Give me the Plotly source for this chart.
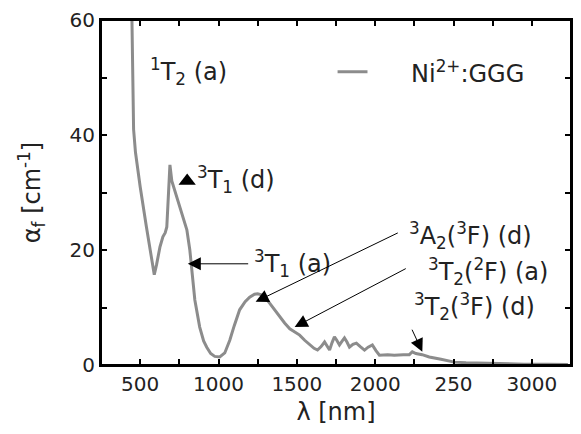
import plotly.graph_objects as go

# Absorption spectrum data
wavelength_nm = [447, 452, 458, 470, 500, 540, 570, 590, 605, 626, 645, 660, 670, 680, 690,
                 702, 725, 753, 780, 798, 817, 830, 849, 880, 905, 925, 950, 976, 1008, 1040,
                 1072, 1100, 1135, 1170, 1199, 1230, 1250, 1275, 1295, 1325, 1358, 1390, 1422,
                 1455, 1486, 1518, 1550, 1581, 1610, 1632, 1655, 1677, 1695, 1709, 1725, 1740,
                 1755, 1772, 1790, 1804, 1820, 1836, 1858, 1880, 1905, 1932, 1955, 1982, 2005,
                 2027, 2080, 2122, 2180, 2218, 2237, 2260, 2300, 2345, 2420, 2505, 2580, 2664,
                 2791, 2950, 3100, 3230]
alpha_cm = [61, 50, 41, 37, 31, 24, 19, 15.7, 17.5, 20.5, 22.3, 23, 24, 28.5, 34.8,
            32, 30, 27.5, 25, 23.5, 20, 16, 11.3, 6.6, 4.2, 3.1, 2.0, 1.5, 1.4, 2.1,
            4.3, 6.8, 9.6, 11, 11.8, 12.3, 12.4, 12.2, 11.8, 10.8, 9.6, 8.5, 7.3,
            6.3, 5.7, 5.2, 4.3, 3.5, 2.9, 2.6, 3.2, 4.0, 3.2, 2.6, 3.9, 4.9,
            4.3, 3.5, 4.2, 4.7, 4.0, 3.1, 3.6, 3.8, 3.2, 2.6, 3.1, 3.5, 2.5,
            1.7, 1.8, 1.7, 1.8, 1.8, 2.3, 2.0, 1.8, 1.4, 1.0, 0.5, 0.4, 0.35,
            0.2, 0.15, 0.15, 0.1]

# Tick positions (major labelled, minor blank)
x_tickvals = [500, 750, 1000, 1250, 1500, 1750, 2000, 2250, 2500, 2750, 3000, 3250]
x_ticktext = ["500", "", "1000", "", "1500", "", "2000", "", "250", "", "3000", ""]
y_tickvals = [0, 10, 20, 30, 40, 50, 60]
y_ticktext = ["0", "", "20", "", "40", "", "60"]

# Arrow annotations: label, tip (x, y), tail (x, y), label position (x, y)
arrow_labels = ["<sup>3</sup>T<sub>1</sub> (a)",
                "<sup>3</sup>A<sub>2</sub>(<sup>3</sup>F) (d)",
                "<sup>3</sup>T<sub>2</sub>(<sup>2</sup>F) (a)",
                "<sup>3</sup>T<sub>2</sub>(<sup>3</sup>F) (d)"]
arrow_tip_x = [804, 1237, 1486, 2301]
arrow_tip_y = [17.6, 11.0, 6.6, 2.3]
arrow_tail_x = [1199, 2154, 2205, 2231]
arrow_tail_y = [17.6, 23.1, 16.9, 6.4]
label_x = [1212, 2205, 2326, 2237]
label_y = [17.6, 22.6, 16.2, 10.1]

# Plain labels
plain_labels = ["<sup>1</sup>T<sub>2</sub> (a)", "<sup>3</sup>T<sub>1</sub> (d)"]
plain_x = [549, 849]
plain_y = [51, 32.2]
marker_x = [800]
marker_y = [32.0]

legend_name = "Ni<sup>2+</sup>:GGG"
legend_line_x = [1760, 1951]
legend_y = 51
legend_text_x = 2218

line_color = "#8c8c8c"
txt_color = "#222222"
FONT = "DejaVu Sans"

fig = go.Figure()
fig.add_trace(go.Scatter(x=wavelength_nm, y=alpha_cm, mode="lines",
                         line=dict(color=line_color, width=3), name=legend_name,
                         showlegend=False))
fig.add_trace(go.Scatter(x=marker_x, y=marker_y, mode="markers",
                         marker=dict(symbol="triangle-up", size=15, color="black"),
                         showlegend=False))

annotations = []
for lab, tx, ty, ax, ay, lx, ly in zip(arrow_labels, arrow_tip_x, arrow_tip_y,
                                       arrow_tail_x, arrow_tail_y, label_x, label_y):
    annotations.append(dict(x=tx, y=ty, ax=ax, ay=ay, xref="x", yref="y",
                            axref="x", ayref="y", text="", showarrow=True,
                            arrowhead=2, arrowsize=2.6, arrowwidth=1, arrowcolor="black"))
    annotations.append(dict(x=lx, y=ly, xref="x", yref="y", text=lab, showarrow=False,
                            xanchor="left", yanchor="middle",
                            font=dict(family=FONT, size=24, color=txt_color)))
for lab, lx, ly in zip(plain_labels, plain_x, plain_y):
    annotations.append(dict(x=lx, y=ly, xref="x", yref="y", text=lab, showarrow=False,
                            xanchor="left", yanchor="middle",
                            font=dict(family=FONT, size=24, color=txt_color)))
annotations.append(dict(x=legend_text_x, y=legend_y, xref="x", yref="y", text=legend_name,
                        showarrow=False, xanchor="left", yanchor="middle",
                        font=dict(family=FONT, size=24, color=txt_color)))

fig.add_shape(type="line", xref="x", yref="y", x0=legend_line_x[0], x1=legend_line_x[1],
              y0=legend_y, y1=legend_y, line=dict(color=line_color, width=3))
# plot frame (box around the plotting area)
fig.add_shape(type="rect", xref="paper", yref="paper", x0=0, x1=1, y0=0, y1=1,
              line=dict(color="black", width=2), fillcolor="rgba(0,0,0,0)", layer="above")

axis_common = dict(showline=True, linecolor="black", linewidth=2, mirror="allticks",
                   ticks="inside", ticklen=6, tickwidth=1.5, tickcolor="black",
                   showgrid=False, zeroline=False,
                   tickfont=dict(family=FONT, size=20, color=txt_color))

fig.update_xaxes(range=[250, 3250], tickmode="array", tickvals=x_tickvals,
                 ticktext=x_ticktext,
                 title=dict(text="λ [nm]", font=dict(family=FONT, size=24, color=txt_color),
                            standoff=8),
                 **axis_common)
fig.update_yaxes(range=[0, 60], tickmode="array", tickvals=y_tickvals, ticktext=y_ticktext,
                 title=dict(text="α<sub>f</sub> [cm<sup>-1</sup>]",
                            font=dict(family=FONT, size=24, color=txt_color), standoff=22),
                 **axis_common)

fig.update_layout(width=581, height=434, margin=dict(l=101, r=8, t=20, b=69),
                  plot_bgcolor="white", paper_bgcolor="white",
                  annotations=annotations, showlegend=False)

fig.write_html("out.html")
